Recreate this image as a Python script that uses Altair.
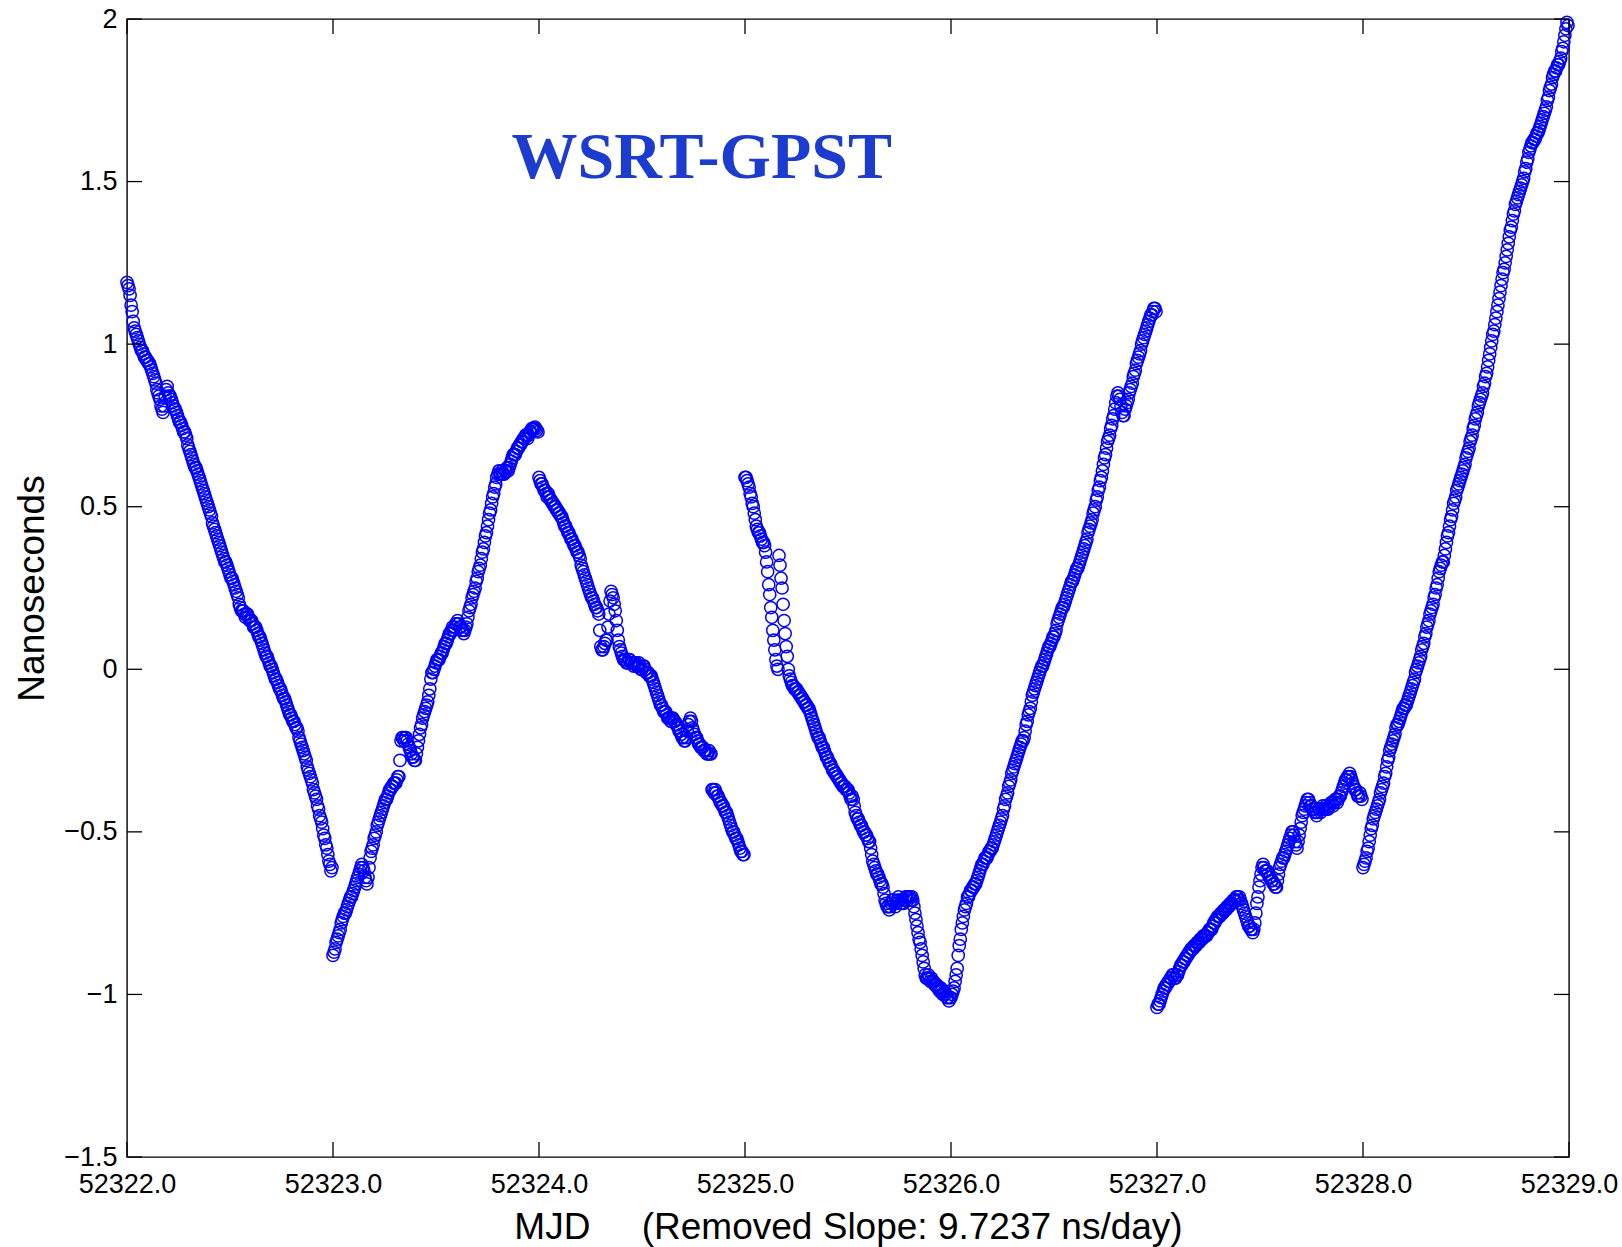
import altair as alt
import pandas as pd

# ---- data (ns offset, one list per MJD day, evenly spaced in time) ----
day_starts = [52322, 52323, 52324, 52325, 52326, 52327, 52328]

day0 = [1.19, 1.17, 1.12, 1.07, 1.04, 1.02, 1.00, 0.98, 0.97, 0.96,
        0.95, 0.94, 0.92, 0.90, 0.88, 0.85, 0.83, 0.80, 0.81, 0.86,
        0.85, 0.84, 0.82, 0.80, 0.79, 0.77, 0.76, 0.74, 0.73, 0.71,
        0.68, 0.66, 0.64, 0.62, 0.61, 0.59, 0.57, 0.55, 0.53, 0.51,
        0.49, 0.47, 0.44, 0.42, 0.40, 0.38, 0.36, 0.34, 0.33, 0.31,
        0.29, 0.28, 0.26, 0.24, 0.22, 0.19, 0.18, 0.17, 0.17, 0.16,
        0.15, 0.14, 0.13, 0.12, 0.10, 0.09, 0.07, 0.05, 0.04, 0.02,
        0.01, -0.01, -0.03, -0.04, -0.06, -0.07, -0.09, -0.10, -0.12, -0.14,
        -0.15, -0.16, -0.18, -0.19, -0.22, -0.24, -0.26, -0.28, -0.31, -0.33,
        -0.35, -0.38, -0.40, -0.43, -0.46, -0.49, -0.52, -0.55, -0.59, -0.62]

day1 = [-0.88, -0.86, -0.83, -0.81, -0.78, -0.76, -0.75, -0.73, -0.71, -0.70,
        -0.68, -0.66, -0.64, -0.62, -0.60, -0.62, -0.65, -0.64, -0.58, -0.55,
        -0.52, -0.50, -0.47, -0.45, -0.43, -0.41, -0.40, -0.38, -0.37, -0.36,
        -0.35, -0.34, -0.33, -0.22, -0.21, -0.21, -0.22, -0.24, -0.26, -0.27,
        -0.28, -0.24, -0.20, -0.17, -0.14, -0.12, -0.10, -0.06, -0.01, 0.00,
        0.02, 0.03, 0.04, 0.05, 0.07, 0.08, 0.10, 0.11, 0.13, 0.13,
        0.14, 0.14, 0.13, 0.12, 0.12, 0.14, 0.18, 0.20, 0.23, 0.25,
        0.28, 0.31, 0.34, 0.37, 0.41, 0.44, 0.48, 0.51, 0.54, 0.57,
        0.60, 0.60, 0.61, 0.60, 0.61, 0.61, 0.63, 0.65, 0.66, 0.67,
        0.68, 0.69, 0.70, 0.71, 0.72, 0.72, 0.73, 0.74, 0.745, 0.735]

day2 = [0.59, 0.57, 0.56, 0.55, 0.53, 0.53, 0.52, 0.51, 0.50, 0.49,
        0.48, 0.47, 0.45, 0.44, 0.42, 0.41, 0.40, 0.38, 0.37, 0.36,
        0.34, 0.31, 0.29, 0.27, 0.25, 0.23, 0.22, 0.20, 0.19, 0.17,
        0.07, 0.06, 0.08, 0.09, 0.17, 0.24, 0.22, 0.18, 0.12, 0.07,
        0.05, 0.03, 0.03, 0.02, 0.03, 0.02, 0.01, 0.02, 0.01, 0.01,
        0.00, 0.01, -0.01, -0.01, -0.02, -0.03, -0.05, -0.07, -0.09, -0.11,
        -0.12, -0.13, -0.14, -0.15, -0.16, -0.15, -0.16, -0.17, -0.19, -0.20,
        -0.21, -0.22, -0.19, -0.16, -0.16, -0.19, -0.21, -0.22, -0.23, -0.24,
        -0.25, -0.25, -0.26, -0.26, -0.37, -0.38, -0.38, -0.39, -0.41, -0.42,
        -0.43, -0.44, -0.46, -0.48, -0.50, -0.51, -0.52, -0.54, -0.56, -0.57]

day3 = [0.59, 0.59, 0.58, 0.57, 0.56, 0.54, 0.53, 0.51, 0.50, 0.48,
        0.46, 0.44, 0.43, 0.42, 0.42, 0.41, 0.40, 0.39, 0.39, 0.38,
        0.36, 0.33, 0.30, 0.26, 0.23, 0.19, 0.16, 0.12, 0.09, 0.06,
        0.03, 0.01, 0.00, 0.35, 0.32, 0.28, 0.25, 0.20, 0.15, 0.11,
        0.07, 0.04, 0.00, -0.02, -0.03, -0.04, -0.05, -0.05, -0.06, -0.06,
        -0.06, -0.07, -0.07, -0.08, -0.08, -0.09, -0.09, -0.10, -0.10, -0.11,
        -0.11, -0.12, -0.12, -0.13, -0.14, -0.15, -0.16, -0.17, -0.18, -0.19,
        -0.20, -0.21, -0.21, -0.22, -0.23, -0.24, -0.24, -0.25, -0.26, -0.27,
        -0.27, -0.28, -0.29, -0.29, -0.30, -0.31, -0.31, -0.32, -0.32, -0.33,
        -0.33, -0.34, -0.34, -0.35, -0.35, -0.36, -0.36, -0.36, -0.37, -0.37,
        -0.37, -0.38, -0.39, -0.40, -0.39, -0.40, -0.42, -0.44, -0.45, -0.46,
        -0.46, -0.47, -0.48, -0.48, -0.49, -0.50, -0.50, -0.51, -0.51, -0.52,
        -0.53, -0.53, -0.55, -0.57, -0.59, -0.60, -0.61, -0.62, -0.63, -0.63,
        -0.64, -0.65, -0.66, -0.66, -0.67, -0.69, -0.71, -0.72, -0.73, -0.73,
        -0.74, -0.73, -0.72, -0.71, -0.71, -0.72, -0.73, -0.72, -0.71, -0.70,
        -0.71, -0.72, -0.72, -0.71, -0.72, -0.71, -0.70, -0.70, -0.71, -0.70,
        -0.70, -0.71, -0.70, -0.71, -0.73, -0.75, -0.77, -0.79, -0.81, -0.83,
        -0.84, -0.86, -0.88, -0.90, -0.92, -0.94, -0.95, -0.95, -0.94, -0.95,
        -0.96, -0.95, -0.96, -0.96, -0.97, -0.97, -0.97, -0.98, -0.98, -0.99,
        -0.98, -0.99, -1.00, -1.00, -0.99, -1.00, -1.01, -1.01, -1.02, -1.01]

day4 = [-1.01, -0.99, -0.96, -0.92, -0.85, -0.80, -0.76, -0.73, -0.70, -0.69,
        -0.68, -0.67, -0.66, -0.64, -0.62, -0.60, -0.59, -0.58, -0.57, -0.56,
        -0.55, -0.53, -0.51, -0.49, -0.47, -0.45, -0.42, -0.39, -0.36, -0.34,
        -0.31, -0.29, -0.27, -0.25, -0.23, -0.22, -0.19, -0.16, -0.13, -0.10,
        -0.07, -0.05, -0.03, -0.01, 0.01, 0.02, 0.04, 0.06, 0.07, 0.09,
        0.10, 0.12, 0.15, 0.17, 0.19, 0.20, 0.22, 0.24, 0.26, 0.27,
        0.29, 0.31, 0.32, 0.34, 0.36, 0.38, 0.40, 0.43, 0.45, 0.48,
        0.50, 0.53, 0.56, 0.59, 0.63, 0.66, 0.70, 0.72, 0.75, 0.78,
        0.82, 0.85, 0.83, 0.79, 0.78, 0.81, 0.83, 0.86, 0.88, 0.91,
        0.94, 0.96, 0.98, 1.01, 1.03, 1.05, 1.07, 1.09, 1.10, 1.11]

day5 = [-1.04, -1.03, -1.01, -0.99, -0.98, -0.97, -0.96, -0.95, -0.94, -0.95,
        -0.94, -0.92, -0.91, -0.90, -0.89, -0.88, -0.87, -0.86, -0.85, -0.85,
        -0.84, -0.83, -0.83, -0.82, -0.82, -0.81, -0.80, -0.79, -0.78, -0.77,
        -0.76, -0.75, -0.75, -0.74, -0.73, -0.73, -0.72, -0.71, -0.71, -0.70,
        -0.70, -0.72, -0.74, -0.76, -0.78, -0.79, -0.80, -0.80, -0.75, -0.70,
        -0.65, -0.61, -0.61, -0.62, -0.63, -0.64, -0.65, -0.66, -0.67, -0.63,
        -0.60, -0.58, -0.57, -0.55, -0.53, -0.51, -0.50, -0.53, -0.55, -0.51,
        -0.47, -0.44, -0.42, -0.40, -0.41, -0.42, -0.43, -0.44, -0.44, -0.43,
        -0.43, -0.43, -0.42, -0.43, -0.42, -0.41, -0.41, -0.40, -0.40, -0.39,
        -0.37, -0.35, -0.34, -0.33, -0.33, -0.35, -0.37, -0.38, -0.39, -0.39]

day6 = [-0.61, -0.59, -0.56, -0.53, -0.49, -0.46, -0.44, -0.42, -0.40, -0.37,
        -0.35, -0.32, -0.28, -0.25, -0.23, -0.21, -0.18, -0.17, -0.15, -0.13,
        -0.12, -0.11, -0.09, -0.07, -0.05, -0.03, 0.00, 0.02, 0.04, 0.07,
        0.10, 0.13, 0.15, 0.18, 0.20, 0.23, 0.26, 0.30, 0.32, 0.33,
        0.37, 0.41, 0.44, 0.47, 0.51, 0.53, 0.56, 0.58, 0.60, 0.62,
        0.65, 0.67, 0.70, 0.72, 0.75, 0.78, 0.81, 0.83, 0.85, 0.88,
        0.91, 0.95, 0.99, 1.03, 1.06, 1.10, 1.14, 1.18, 1.22, 1.25,
        1.29, 1.33, 1.36, 1.40, 1.43, 1.45, 1.47, 1.49, 1.51, 1.54,
        1.57, 1.60, 1.62, 1.63, 1.64, 1.65, 1.67, 1.69, 1.71, 1.73,
        1.76, 1.79, 1.82, 1.84, 1.85, 1.86, 1.88, 1.91, 1.95, 1.99]

# second reading of the band (samples lying between the ones above)
day0b = [1.18, 1.15, 1.10, 1.05, 1.03, 1.01, 0.99, 0.98, 0.96, 0.95,
         0.94, 0.93, 0.91, 0.89, 0.86, 0.84, 0.81, 0.79, 0.84, 0.87,
         0.84, 0.83, 0.81, 0.80, 0.78, 0.76, 0.75, 0.73, 0.72, 0.69,
         0.67, 0.65, 0.63, 0.62, 0.60, 0.58, 0.56, 0.54, 0.52, 0.50,
         0.48, 0.45, 0.43, 0.41, 0.39, 0.37, 0.35, 0.33, 0.32, 0.30,
         0.28, 0.27, 0.25, 0.23, 0.20, 0.18, 0.18, 0.16, 0.17, 0.15,
         0.15, 0.13, 0.13, 0.11, 0.10, 0.08, 0.06, 0.04, 0.03, 0.01,
         0.00, -0.02, -0.03, -0.05, -0.06, -0.08, -0.09, -0.11, -0.13, -0.14,
         -0.16, -0.17, -0.18, -0.21, -0.23, -0.25, -0.27, -0.30, -0.32, -0.34,
         -0.37, -0.39, -0.42, -0.45, -0.47, -0.51, -0.54, -0.57, -0.60, -0.61]

day1b = [-0.87, -0.84, -0.82, -0.80, -0.77, -0.75, -0.74, -0.72, -0.70, -0.69,
         -0.67, -0.65, -0.63, -0.61, -0.61, -0.64, -0.66, -0.61, -0.56, -0.54,
         -0.51, -0.48, -0.46, -0.44, -0.42, -0.40, -0.39, -0.37, -0.36, -0.35,
         -0.35, -0.33, -0.28, -0.21, -0.22, -0.21, -0.23, -0.25, -0.27, -0.28,
         -0.26, -0.22, -0.18, -0.15, -0.13, -0.11, -0.08, -0.03, -0.01, 0.01,
         0.03, 0.03, 0.05, 0.06, 0.08, 0.09, 0.11, 0.12, 0.12, 0.14,
         0.15, 0.13, 0.12, 0.11, 0.13, 0.16, 0.19, 0.22, 0.24, 0.27,
         0.30, 0.32, 0.36, 0.39, 0.42, 0.46, 0.49, 0.53, 0.56, 0.59,
         0.61, 0.60, 0.60, 0.61, 0.62, 0.62, 0.64, 0.66, 0.66, 0.68,
         0.69, 0.70, 0.71, 0.72, 0.71, 0.73, 0.74, 0.74, 0.74, 0.73]

day2b = [0.58, 0.57, 0.55, 0.54, 0.54, 0.52, 0.51, 0.50, 0.49, 0.48,
         0.47, 0.46, 0.44, 0.43, 0.42, 0.40, 0.39, 0.38, 0.36, 0.35,
         0.32, 0.30, 0.28, 0.26, 0.24, 0.22, 0.21, 0.19, 0.18, 0.12,
         0.06, 0.07, 0.09, 0.13, 0.21, 0.23, 0.20, 0.15, 0.09, 0.06,
         0.04, 0.03, 0.02, 0.03, 0.02, 0.02, 0.02, 0.01, 0.02, 0.00,
         0.01, 0.00, -0.01, -0.02, -0.02, -0.04, -0.06, -0.08, -0.10, -0.11,
         -0.13, -0.13, -0.15, -0.15, -0.15, -0.16, -0.17, -0.18, -0.19, -0.21,
         -0.22, -0.21, -0.17, -0.15, -0.18, -0.20, -0.21, -0.23, -0.24, -0.24,
         -0.25, -0.26, -0.25, -0.26, -0.37, -0.37, -0.39, -0.40, -0.41, -0.42,
         -0.44, -0.45, -0.47, -0.49, -0.50, -0.52, -0.53, -0.55, -0.56, -0.57]

day4b = [-1.00, -0.98, -0.94, -0.88, -0.83, -0.78, -0.74, -0.72, -0.70, -0.68,
         -0.67, -0.66, -0.65, -0.63, -0.61, -0.60, -0.58, -0.58, -0.56, -0.55,
         -0.54, -0.52, -0.50, -0.48, -0.46, -0.43, -0.40, -0.38, -0.35, -0.32,
         -0.30, -0.28, -0.26, -0.24, -0.22, -0.21, -0.17, -0.14, -0.12, -0.08,
         -0.06, -0.04, -0.02, 0.00, 0.01, 0.03, 0.05, 0.07, 0.08, 0.10,
         0.11, 0.14, 0.16, 0.18, 0.19, 0.21, 0.23, 0.25, 0.27, 0.28,
         0.30, 0.31, 0.33, 0.35, 0.37, 0.39, 0.42, 0.44, 0.46, 0.49,
         0.52, 0.55, 0.58, 0.61, 0.65, 0.68, 0.71, 0.74, 0.77, 0.80,
         0.84, 0.84, 0.81, 0.78, 0.80, 0.82, 0.85, 0.87, 0.90, 0.92,
         0.95, 0.97, 1.00, 1.02, 1.04, 1.06, 1.08, 1.09, 1.11, 1.10]

day5b = [-1.03, -1.02, -1.00, -0.98, -0.97, -0.96, -0.95, -0.94, -0.95, -0.94,
         -0.93, -0.91, -0.90, -0.89, -0.88, -0.87, -0.86, -0.86, -0.85, -0.84,
         -0.84, -0.83, -0.82, -0.82, -0.81, -0.80, -0.80, -0.78, -0.77, -0.76,
         -0.76, -0.75, -0.74, -0.74, -0.73, -0.72, -0.72, -0.71, -0.70, -0.71,
         -0.71, -0.73, -0.75, -0.77, -0.79, -0.80, -0.81, -0.78, -0.72, -0.67,
         -0.63, -0.60, -0.62, -0.62, -0.64, -0.65, -0.66, -0.67, -0.65, -0.61,
         -0.59, -0.58, -0.56, -0.54, -0.52, -0.50, -0.51, -0.54, -0.53, -0.49,
         -0.45, -0.43, -0.41, -0.40, -0.42, -0.43, -0.44, -0.45, -0.43, -0.44,
         -0.42, -0.43, -0.43, -0.42, -0.41, -0.42, -0.40, -0.41, -0.39, -0.38,
         -0.36, -0.34, -0.33, -0.32, -0.34, -0.36, -0.37, -0.39, -0.38, -0.40]

day6b = [-0.60, -0.58, -0.55, -0.51, -0.48, -0.45, -0.43, -0.41, -0.38, -0.36,
         -0.33, -0.30, -0.27, -0.24, -0.22, -0.20, -0.17, -0.16, -0.14, -0.12,
         -0.11, -0.10, -0.08, -0.06, -0.04, -0.01, 0.01, 0.03, 0.06, 0.08,
         0.11, 0.14, 0.17, 0.19, 0.22, 0.25, 0.28, 0.31, 0.33, 0.35,
         0.39, 0.42, 0.46, 0.49, 0.52, 0.55, 0.57, 0.59, 0.61, 0.63,
         0.66, 0.68, 0.71, 0.74, 0.77, 0.79, 0.82, 0.84, 0.87, 0.90,
         0.93, 0.97, 1.01, 1.04, 1.08, 1.12, 1.16, 1.20, 1.23, 1.27,
         1.31, 1.35, 1.38, 1.41, 1.44, 1.46, 1.48, 1.50, 1.53, 1.56,
         1.59, 1.61, 1.62, 1.63, 1.65, 1.66, 1.68, 1.70, 1.72, 1.75,
         1.78, 1.80, 1.83, 1.84, 1.86, 1.87, 1.90, 1.93, 1.97, 1.98]

days = [day0, day1, day2, day3, day4, day5, day6]
days_b = [day0b, day1b, day2b, [], day4b, day5b, day6b]

x_ticks = [52322, 52323, 52324, 52325, 52326, 52327, 52328, 52329]
y_ticks = [-1.5, -1, -0.5, 0, 0.5, 1, 1.5, 2]

x_title = "MJD\u00a0\u00a0\u00a0\u00a0 (Removed Slope: 9.7237 ns/day)"
y_title = "Nanoseconds"
label_text = ["WSRT-GPST"]
label_mjd = [52324.79]
label_ns = [1.573]

# ---- build table ----
rows = []
for start, vals in zip(day_starts, days):
    n = len(vals)
    for i, v in enumerate(vals):
        rows.append({"mjd": start + i / n, "ns": v})
for start, vals in zip(day_starts, days_b):
    n = len(vals)
    for i, v in enumerate(vals):
        rows.append({"mjd": start + (i + 0.5) / n, "ns": v})
df = pd.DataFrame(rows).sort_values("mjd")

W, H = 1442, 1138
TICK = 15
FONT = "Liberation Sans"

xscale = alt.Scale(domain=[52322, 52329], nice=False, zero=False)
yscale = alt.Scale(domain=[-1.5, 2], nice=False, zero=False)
xaxis = alt.Axis(values=x_ticks, format=".1f", title=x_title, labelPadding=14, titlePadding=12)
yaxis = alt.Axis(values=y_ticks, format="~g", title=y_title, labelPadding=10, titlePadding=12)


def X():
    return alt.X("mjd:Q", scale=xscale, axis=xaxis)


def Y():
    return alt.Y("ns:Q", scale=yscale, axis=yaxis)


points = alt.Chart(df).mark_point(
    shape="circle", filled=False, color="#0000ff", size=150, strokeWidth=1.5, opacity=1
).encode(x=X(), y=Y())

xt = pd.DataFrame({"mjd": x_ticks})
yt = pd.DataFrame({"ns": y_ticks})

tick_bottom = alt.Chart(xt).mark_rule(color="black", strokeWidth=1.3).encode(
    x=X(), y=alt.value(H), y2=alt.value(H - TICK))
tick_top = alt.Chart(xt).mark_rule(color="black", strokeWidth=1.3).encode(
    x=X(), y=alt.value(0), y2=alt.value(TICK))
tick_left = alt.Chart(yt).mark_rule(color="black", strokeWidth=1.3).encode(
    y=Y(), x=alt.value(0), x2=alt.value(TICK))
tick_right = alt.Chart(yt).mark_rule(color="black", strokeWidth=1.3).encode(
    y=Y(), x=alt.value(W - TICK), x2=alt.value(W))

label_df = pd.DataFrame({"mjd": label_mjd, "ns": label_ns, "t": label_text})
label = alt.Chart(label_df).mark_text(
    font="Liberation Serif", fontWeight="bold", fontSize=66, color="#1c3ccf",
    align="center", baseline="middle"
).encode(x=X(), y=Y(), text="t:N")

chart = alt.layer(points, tick_bottom, tick_top, tick_left, tick_right, label).properties(
    width=W, height=H,
    padding={"left": 127, "top": 19, "right": 53, "bottom": 90},
    autosize=alt.AutoSizeParams(type="none"),
    background="white",
).configure_view(
    stroke="black", strokeWidth=1.4
).configure_axis(
    grid=False, domain=False, ticks=False,
    labelFont=FONT, labelFontSize=27, labelColor="black",
    titleFont=FONT, titleFontSize=37, titleFontWeight="normal", titleColor="black",
    labelFlush=False, labelOverlap=False,
)

chart.save("out.html", embed_options={"renderer": "svg", "actions": False})
